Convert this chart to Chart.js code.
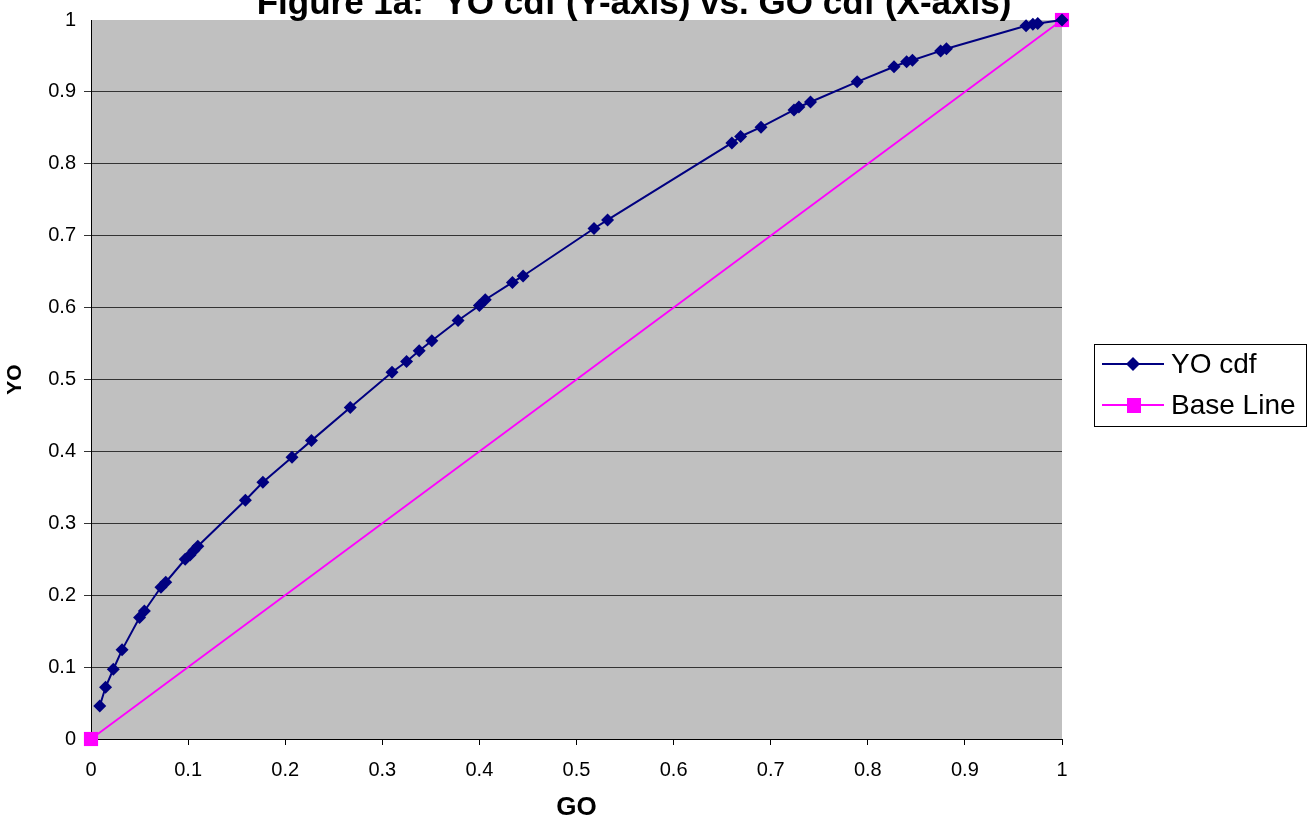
<!DOCTYPE html>
<html>
<head>
<meta charset="utf-8">
<script src="https://cdn.jsdelivr.net/npm/chart.js@4/dist/chart.umd.min.js"></script>
<style>
  html, body { margin: 0; padding: 0; background: #fff; }
  #wrap { position: relative; width: 1313px; height: 825px; }
</style>
</head>
<body>
<div id="wrap"><canvas id="cdfChart" width="1313" height="825"></canvas></div>
<script>
// values
var goValues = [0.009, 0.015, 0.023, 0.032, 0.050, 0.055, 0.072, 0.077, 0.097, 0.102, 0.106, 0.110,
  0.159, 0.177, 0.207, 0.227, 0.267, 0.310, 0.325, 0.338, 0.351, 0.378, 0.400, 0.406, 0.434, 0.445,
  0.518, 0.532, 0.660, 0.669, 0.690, 0.724, 0.729, 0.741, 0.789, 0.827, 0.840, 0.846, 0.875, 0.881,
  0.963, 0.970, 0.975, 1.0];
var yoValues = [0.046, 0.072, 0.097, 0.124, 0.169, 0.178, 0.211, 0.218, 0.250, 0.256, 0.262, 0.268,
  0.332, 0.357, 0.392, 0.415, 0.461, 0.510, 0.525, 0.540, 0.554, 0.582, 0.603, 0.611, 0.635, 0.644,
  0.710, 0.722, 0.829, 0.838, 0.851, 0.875, 0.879, 0.886, 0.914, 0.935, 0.942, 0.944, 0.957, 0.960,
  0.992, 0.994, 0.995, 1.0];
var baseX = [0, 1];
var baseY = [0, 1];
var seriesNames = ['YO cdf', 'Base Line'];
var chartTitle = 'Figure 1a:  YO cdf (Y-axis) vs. GO cdf (X-axis)';

var FONT = 'Arial, "Liberation Sans", sans-serif';

function toPoints(xs, ys) {
  return xs.map(function (x, i) { return { x: x, y: ys[i] } })
}

function tickText(v) {
  return String(Number(v.toFixed(1)))
}

// gray plot area, title and legend box
var excelLook = {
  id: 'excelLook',
  beforeDraw: function (chart) {
    var a = chart.chartArea, ctx = chart.ctx
    ctx.save()
    ctx.fillStyle = '#c0c0c0'
    ctx.fillRect(a.left, a.top, a.right - a.left, a.bottom - a.top)
    ctx.restore()
  },
  afterDraw: function (chart) {
    var ctx = chart.ctx
    ctx.save()
    // title, cut off at the top like the source
    ctx.fillStyle = '#000'
    ctx.font = 'bold 35px ' + FONT
    ctx.textAlign = 'center'
    ctx.textBaseline = 'alphabetic'
    ctx.fillText(chartTitle, 634, 14)

    // legend
    var lx = 1094, ly = 344, lw = 212, lh = 82
    ctx.fillStyle = '#fff'
    ctx.fillRect(lx, ly, lw, lh)
    ctx.strokeStyle = '#000'
    ctx.lineWidth = 1
    ctx.strokeRect(lx + 0.5, ly + 0.5, lw, lh)
    var rows = [
      { y: 364, color: '#000080', marker: 'diamond' },
      { y: 405, color: '#ff00ff', marker: 'square' }
    ]
    rows.forEach(function (r, i) {
      ctx.strokeStyle = r.color
      ctx.lineWidth = 1.8
      ctx.beginPath()
      ctx.moveTo(1102, r.y)
      ctx.lineTo(1164, r.y)
      ctx.stroke()
      ctx.fillStyle = r.color
      ctx.beginPath()
      if (r.marker === 'diamond') {
        ctx.moveTo(1133, r.y - 7); ctx.lineTo(1140, r.y); ctx.lineTo(1133, r.y + 7); ctx.lineTo(1126, r.y)
        ctx.closePath(); ctx.fill()
      } else {
        ctx.fillRect(1127, r.y - 7, 14, 15)
      }
      ctx.fillStyle = '#000'
      ctx.font = '28px ' + FONT
      ctx.textAlign = 'left'
      ctx.textBaseline = 'middle'
      ctx.fillText(seriesNames[i], 1171, r.y + 1)
    })
    ctx.restore()
  }
}

var ctx = document.getElementById('cdfChart').getContext('2d')
var cdfChart = new Chart(ctx, {
  type: 'line',
  data: {
    datasets: [{
      label: seriesNames[0],
      data: toPoints(goValues, yoValues),
      borderColor: '#000080',
      backgroundColor: '#000080',
      borderWidth: 2,
      pointStyle: 'rectRot',
      pointRadius: 6.5,
      pointBorderWidth: 0,
      pointHoverRadius: 6.5,
      tension: 0,
      clip: false
    }, {
      label: seriesNames[1],
      data: toPoints(baseX, baseY),
      borderColor: '#ff00ff',
      backgroundColor: '#ff00ff',
      borderWidth: 1.8,
      pointStyle: 'rect',
      pointRadius: 10,
      pointBorderWidth: 0,
      pointHoverRadius: 10,
      tension: 0,
      clip: false
    }]
  },
  options: {
    responsive: false,
    animation: false,
    events: [],
    layout: { padding: { top: 19, right: 251, left: 0, bottom: 0 } },
    plugins: {
      legend: { display: false },
      title: { display: false },
      tooltip: { enabled: false }
    },
    scales: {
      x: {
        type: 'linear',
        min: 0,
        max: 1,
        afterFit: function (scale) { scale.height = 86 },
        ticks: {
          stepSize: 0.1,
          color: '#000',
          font: { family: FONT, size: 20 },
          padding: 13,
          maxRotation: 0,
          callback: tickText
        },
        grid: { drawOnChartArea: false, drawTicks: true, tickLength: 6, color: '#000' },
        border: { color: '#000', width: 1 },
        title: {
          display: true,
          text: 'GO',
          color: '#000',
          font: { family: FONT, size: 26, weight: 'bold' },
          padding: { top: 0, bottom: 2 }
        }
      },
      y: {
        type: 'linear',
        min: 0,
        max: 1,
        afterFit: function (scale) { scale.width = 91 },
        ticks: {
          stepSize: 0.1,
          color: '#000',
          font: { family: FONT, size: 20 },
          padding: 8,
          callback: tickText
        },
        grid: {
          drawTicks: true,
          tickLength: 7,
          color: function (c) { return c.tick && c.tick.value >= 1 ? 'rgba(0,0,0,0)' : '#333' },
          lineWidth: 1
        },
        border: { color: '#000', width: 1 },
        title: {
          display: true,
          text: 'YO',
          color: '#000',
          font: { family: FONT, size: 21, weight: 'bold' },
          padding: { top: 3, bottom: 0 }
        }
      }
    }
  },
  plugins: [excelLook]
})
</script>
</body>
</html>
